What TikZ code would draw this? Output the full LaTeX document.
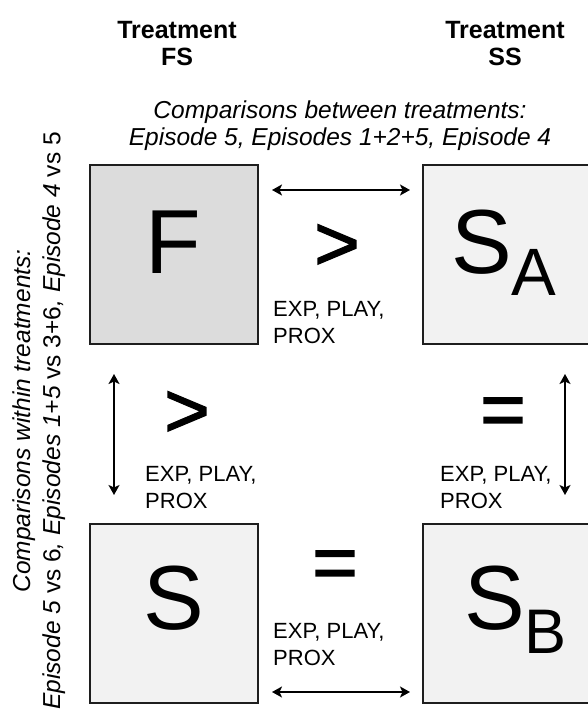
\documentclass[tikz,border=0pt]{standalone}
\usepackage{fontspec}
\setmainfont{Liberation Sans}
\newfontfamily\relfont{Liberation Sans}[FakeBold=1.6]
\usetikzlibrary{arrows.meta}
\definecolor{boxdark}{RGB}{220,220,220}
\definecolor{boxlight}{RGB}{242,242,242}
\definecolor{edge}{RGB}{30,30,30}
\newcommand\fsz[2]{\fontsize{#1}{#2}\selectfont}
\begin{document}
\begin{tikzpicture}[x=1pt,y=-1pt,
  cell/.style={draw=edge, line width=2pt, minimum width=168pt, minimum height=179pt,
               inner sep=0pt, anchor=north west},
  link/.style={{Stealth[length=10pt,width=11pt,inset=2.5pt]}-{Stealth[length=10pt,width=11pt,inset=2.5pt]},
               line width=1.8pt},
  rel/.style={font=\relfont\fsz{78}{78}, inner sep=0pt, anchor=base},
  note/.style={font=\fsz{22}{26.5}, align=left, anchor=base west, inner sep=0pt},
  head/.style={font=\bfseries\fsz{25}{27}, align=center, anchor=base, inner sep=0pt},
  big/.style={inner sep=0pt, anchor=base west}]
\useasboundingbox (0,0) rectangle (587,714);

% column headings (base = last line)
\node[head] (hFS) at (177,66) {Treatment\\FS};
\node[head] (hSS) at (505,66) {Treatment\\SS};

% between-treatment caption
\node[font=\itshape\fsz{24.5}{27}, align=center, anchor=base, inner sep=0pt] (between) at (340,146)
  {Comparisons between treatments:\\Episode 5, Episodes 1+2+5, Episode 4};

% within-treatment caption
\node[font=\fsz{24.5}{30}, align=center, rotate=90, inner sep=0pt] (within) at (39,421)
  {\textit{Comparisons within treatments:}\\
   \textit{Episode 5} vs 6\textit{, Episodes 1+5} vs 3+6\textit{, Episode 4} vs 5};

% the four cells
\node[cell, fill=boxdark]  (F)  at (89,164) {};
\node[cell, fill=boxlight] (SA) at (422,164) {};
\node[cell, fill=boxlight] (S)  at (89,523) {};
\node[cell, fill=boxlight] (SB) at (422,523) {};

% cell letters
\node[big, anchor=base] (lF) at (173.5,273) {\fsz{91}{91}F};
\node[big] (lSA) at (451,273) {\fsz{91}{91}S\fsz{67}{67}\raisebox{-22pt}{A}};
\node[big, anchor=base] (lS) at (173.5,629) {\fsz{91}{91}S};
\node[big] (lSB) at (464,629) {\fsz{91}{91}S\fsz{63}{63}\raisebox{-24pt}{B}};

% relations
\node[rel] (rTop)   at (337,270) {>};
\node[rel] (rLeft)  at (187,437) {>};
\node[rel] (rRight) at (503,436) {=};
\node[rel] (rBot)   at (335,589) {=};

% measures (base = second line)
\node[note] (mTop)   at (273,343) {EXP, PLAY,\\PROX};
\node[note] (mLeft)  at (145,508) {EXP, PLAY,\\PROX};
\node[note] (mRight) at (440,508) {EXP, PLAY,\\PROX};
\node[note] (mBot)   at (273,665) {EXP, PLAY,\\PROX};

% comparison arrows
\draw[link] ([xshift=13pt,yshift=-26pt]F.north east) -- ([xshift=-12pt,yshift=-26pt]SA.north west);
\draw[link] ([xshift=13pt,yshift=12pt]S.south east) -- ([xshift=-12pt,yshift=12pt]SB.south west);
\draw[link] ([xshift=25pt,yshift=-29pt]F.south west) -- ([xshift=25pt,yshift=28pt]S.north west);
\draw[link] ([xshift=143pt,yshift=-29pt]SA.south west) -- ([xshift=143pt,yshift=28pt]SB.north west);
\end{tikzpicture}
\end{document}
